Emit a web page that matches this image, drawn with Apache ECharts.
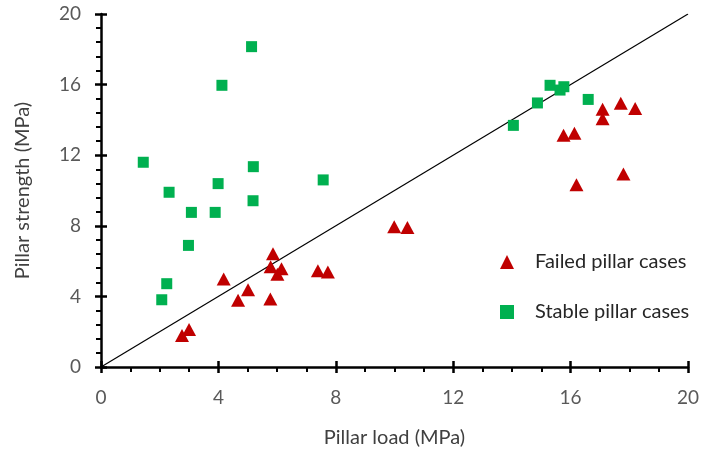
<!DOCTYPE html>
<html>
<head>
<meta charset="utf-8">
<script src="https://cdn.jsdelivr.net/npm/echarts@6/dist/echarts.min.js"></script>
<style>
  html, body { margin: 0; padding: 0; background: #fff; }
</style>
</head>
<body>
<div id="chart" style="width:701px;height:452px;"></div>
<script>
// pillar load (x) and strength (y), MPa
const failedLoad = [2.76, 3.0, 4.18, 4.67, 5.01, 5.77, 5.86, 5.78, 6.01, 6.15, 7.39, 7.73,
  9.99, 10.44, 15.76, 16.13, 16.2, 17.09, 17.09, 17.71, 18.2, 17.8];
const failedStrength = [1.78, 2.12, 4.98, 3.78, 4.38, 3.85, 6.42, 5.68, 5.25, 5.57, 5.46, 5.38,
  7.95, 7.91, 13.13, 13.24, 10.33, 14.6, 14.07, 14.94, 14.64, 10.93];
const stableLoad = [1.44, 2.32, 4.12, 5.13, 5.19, 3.99, 7.57, 5.18, 3.08, 3.89, 2.98, 2.24, 2.07,
  15.3, 15.77, 15.64, 14.87, 14.05, 16.6];
const stableStrength = [11.6, 9.9, 15.96, 18.15, 11.35, 10.39, 10.6, 9.42, 8.76, 8.76, 6.89, 4.72, 3.81,
  15.96, 15.88, 15.69, 14.96, 13.69, 15.16];
const equalityLine = [[0, 0], [20, 20]];
const seriesNames = ['Failed pillar cases', 'Stable pillar cases'];

const pairs = (xs, ys) => xs.map((x, i) => [x, ys[i]]);

const font = 'Lato, "Open Sans", sans-serif';
const labelColor = '#595959';

const baseX = {
  type: 'value', min: 0, max: 20, interval: 4,
  splitLine: { show: false }
};
const baseY = {
  type: 'value', min: 0, max: 20, interval: 4,
  splitLine: { show: false }
};

let myChart = echarts.init(document.getElementById('chart'));
myChart.setOption({
  animation: false,
  textStyle: { fontFamily: font },
  grid: { left: 101, right: 13, top: 14, bottom: 85, containLabel: false, outerBoundsMode: 'none' },
  legend: {
    orient: 'vertical',
    left: 495, top: 247,
    itemGap: 30,
    itemWidth: 14, itemHeight: 14,
    textStyle: { fontFamily: font, fontSize: 20, color: '#262626', padding: [0, 0, 0, 16] },
    data: [
      { name: seriesNames[0], icon: 'triangle' },
      { name: seriesNames[1], icon: 'rect' }
    ]
  },
  xAxis: [
    Object.assign({}, baseX, {
      name: 'Pillar load (MPa)', nameLocation: 'middle', nameGap: 61,
      nameTextStyle: { fontFamily: font, fontSize: 20, color: '#404040' },
      axisLine: { onZero: false, lineStyle: { color: '#000', width: 2.5 } },
      axisTick: { length: 6, lineStyle: { color: '#000', width: 2.5 } },
      minorTick: { show: true, splitNumber: 4, length: 5, lineStyle: { color: '#000', width: 2 } },
      axisLabel: { fontFamily: font, fontSize: 19, color: labelColor, margin: 21 }
    }),
    Object.assign({}, baseX, {
      position: 'bottom',
      axisLine: { show: false },
      axisTick: { inside: true, length: 6, lineStyle: { color: '#000', width: 2.5 } },
      axisLabel: { show: false }
    })
  ],
  yAxis: [
    Object.assign({}, baseY, {
      name: 'Pillar strength (MPa)', nameLocation: 'middle', nameGap: 68,
      nameTextStyle: { fontFamily: font, fontSize: 20, color: '#404040' },
      axisLine: { onZero: false, lineStyle: { color: '#000', width: 2.5 } },
      axisTick: { length: 6, lineStyle: { color: '#000', width: 2.5 } },
      minorTick: { show: true, splitNumber: 5, length: 5, lineStyle: { color: '#000', width: 2 } },
      axisLabel: { fontFamily: font, fontSize: 19, color: labelColor, margin: 20 }
    }),
    Object.assign({}, baseY, {
      position: 'left',
      axisLine: { show: false },
      axisTick: { inside: true, length: 6, lineStyle: { color: '#000', width: 2.5 } },
      axisLabel: { show: false }
    })
  ],
  series: [
    {
      name: 'y = x', type: 'line', data: equalityLine,
      symbol: 'none', silent: true,
      lineStyle: { color: '#000', width: 1.2 },
      z: 1
    },
    {
      name: seriesNames[0], type: 'scatter',
      data: pairs(failedLoad, failedStrength),
      symbol: 'triangle', symbolSize: [14, 13],
      itemStyle: { color: '#C00000', opacity: 1 },
      z: 3
    },
    {
      name: seriesNames[1], type: 'scatter',
      data: pairs(stableLoad, stableStrength),
      symbol: 'rect', symbolSize: 11,
      itemStyle: { color: '#00B050', opacity: 1 },
      z: 2
    }
  ]
});

window.onresize = function () {
  myChart.resize();
};
</script>
</body>
</html>
